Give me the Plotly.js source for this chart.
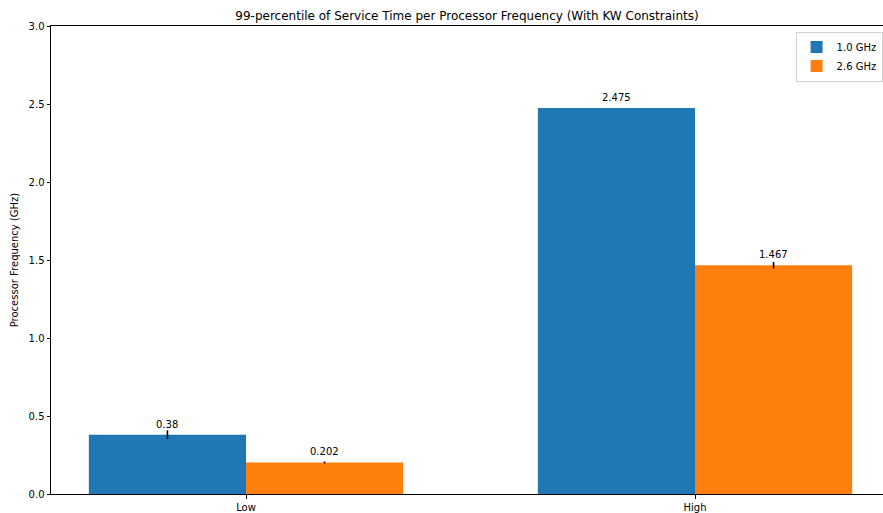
<!DOCTYPE html>
<html>
<head>
<meta charset="utf-8">
<script src="https://cdn.plot.ly/plotly-3.0.1.min.js"></script>
<style>
  html, body { margin: 0; padding: 0; background: #fff; overflow: hidden; }
  #chart { width: 883px; height: 513px; }
</style>
</head>
<body>
<div id="chart"></div>
<script>
// Load categories and the two frequency series (99th percentile service time)
const categories = ['Low', 'High'];
const seriesNames = ['1.0 GHz', '2.6 GHz'];
const values10 = [0.38, 2.475];
const values26 = [0.202, 1.467];
const errors10 = [0.028, 0.0];
const errors26 = [0.006, 0.021];
const yTicks = [0.0, 0.5, 1.0, 1.5, 2.0, 2.5, 3.0];

const colors = ['#1f77b4', '#ff7f0e'];
const FONT = 'DejaVu Sans, sans-serif';

function barTrace(name, vals, errs, color, offset) {
  return {
    type: 'bar',
    name: name,
    x: categories.map((_, i) => i),
    y: vals,
    width: 0.35,
    offset: offset,
    marker: { color: color, line: { width: 0 } },
    error_y: { type: 'data', array: errs, visible: true, color: '#000', thickness: 1.6, width: 0 },
    hoverinfo: 'skip'
  };
}

const traces = [
  barTrace(seriesNames[0], values10, errors10, colors[0], -0.35),
  barTrace(seriesNames[1], values26, errors26, colors[1], 0)
];

// Value labels above each bar
const annotations = [];
[[values10, -0.175], [values26, 0.175]].forEach(([vals, dx]) => {
  vals.forEach((v, i) => {
    annotations.push({
      x: i + dx, y: v, xref: 'x', yref: 'y',
      text: String(v), showarrow: false,
      yanchor: 'bottom', yshift: 3,
      font: { family: FONT, size: 10, color: '#000' }
    });
  });
});

const layout = {
  width: 883,
  height: 513,
  margin: { l: 51, r: 0, t: 26, b: 19, pad: 0 },
  paper_bgcolor: '#fff',
  plot_bgcolor: '#fff',
  title: {
    text: '99-percentile of Service Time per Processor Frequency (With KW Constraints)',
    font: { family: FONT, size: 12, color: '#000' },
    x: 0.5, xref: 'paper', xanchor: 'center',
    y: 1, yref: 'paper', yanchor: 'bottom', pad: { b: 6 }
  },
  showlegend: true,
  legend: {
    x: 0.9995, xanchor: 'right', y: 0.988, yanchor: 'top',
    bgcolor: '#fff', bordercolor: '#d0d0d0', borderwidth: 1,
    font: { family: FONT, size: 10, color: '#000' },
    tracegroupgap: 0
  },
  xaxis: {
    range: [-0.4343, 1.4187],
    tickvals: [0, 1],
    ticktext: categories,
    showline: true, linecolor: '#000', linewidth: 1, mirror: true,
    ticks: 'outside', ticklen: 3.5, tickcolor: '#000', tickwidth: 1,
    showgrid: false, zeroline: false,
    tickfont: { family: FONT, size: 10, color: '#000' }
  },
  yaxis: {
    range: [0, 3],
    tickvals: yTicks,
    ticktext: yTicks.map(t => t.toFixed(1)),
    showline: true, linecolor: '#000', linewidth: 1,
    ticks: 'outside', ticklen: 3.5, tickcolor: '#000', tickwidth: 1,
    showgrid: false, zeroline: false,
    tickfont: { family: FONT, size: 10, color: '#000' },
    title: {
      text: 'Processor Frequency (GHz)',
      font: { family: FONT, size: 10, color: '#000' },
      standoff: 8
    }
  },
  annotations: annotations
};

Plotly.newPlot('chart', traces, layout, { staticPlot: true, displayModeBar: false });
</script>
</body>
</html>
